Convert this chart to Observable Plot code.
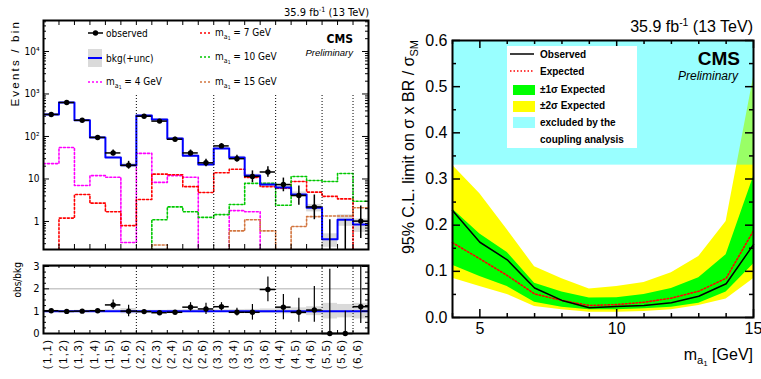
<!DOCTYPE html>
<html><head><meta charset="utf-8">
<script src="https://cdn.jsdelivr.net/npm/d3@7"></script>
<script src="https://cdn.jsdelivr.net/npm/@observablehq/plot@0.6"></script>
<style>
body{margin:0;background:#fff;}
#wrap{position:relative;width:761px;height:379px;overflow:hidden;background:#fff;}
#wrap svg{position:absolute;}
</style></head><body><div id="wrap"></div>
<script>
// ---------- Left panel data ----------
const bins = ["(1,1)","(1,2)","(1,3)","(1,4)","(1,5)","(1,6)","(2,2)","(2,3)","(2,4)","(2,5)","(2,6)","(3,3)","(3,4)","(3,5)","(3,6)","(4,4)","(4,5)","(4,6)","(5,5)","(5,6)","(6,6)"];
const observed = [330, 630, 240, 95, 41, 21, 300, 230, 86, 41, 24, 60, 30, 11.5, 14.6, 7.4, 4.1, 2.2, 0, 0, 1.02];
const obsLow  = [312, 605, 225, 86, 35, 17, 283, 215, 77, 35, 19.5, 52, 25, 8.2, 11, 5, 2.4, 1.1, 0.1, 0.1, 0.4];
const obsHigh = [348, 655, 256, 105, 48, 26, 318, 246, 96, 48, 29, 68, 36, 15.5, 19.5, 10.5, 6.8, 4.2, 1.1, 1.1, 2.3];
const background = [330, 630, 240, 95, 32, 21, 310, 250, 90, 35, 22, 52, 32, 12, 7.4, 6.3, 4.3, 2.1, 0.38, 1.1, 0.85];
const bkgRelUnc = [0.04, 0.03, 0.04, 0.05, 0.06, 0.12, 0.04, 0.04, 0.05, 0.07, 0.08, 0.06, 0.07, 0.08, 0.1, 0.12, 0.15, 0.2, 0.35, 0.3, 0.35];
const signal4  = [23, 55, 7, 12, 11, 0.32, 40, 8.3, 12, 11, 0.21, 0.21, 1.8, 1.7, 0.21, 0.21, 0.21, 0.21, 0.21, 0.21, 0.21];
const signal7  = [0.21, 1.2, 4.3, 2.7, 1.7, 0.8, 3.3, 13, 12.6, 6.6, 4.8, 14, 17, 10.8, 6.6, 6.1, 8.7, 4.9, 3.9, 3.4, 0.21];
const signal10 = [0.21, 0.21, 0.21, 0.21, 0.21, 0.21, 0.21, 1.1, 2.2, 1.7, 1.25, 1.45, 2.5, 7.9, 7.9, 2.4, 11.4, 9.2, 8.7, 13.5, 3.0];
const signal15 = [0.21, 0.21, 0.21, 0.21, 0.21, 0.21, 0.21, 0.28, 0.21, 0.21, 0.21, 0.21, 0.6, 1.1, 0.6, 0.21, 0.76, 1.3, 1.35, 1.35, 2.1];
const ratio     = [1.02, 0.99, 1.0, 1.02, 1.28, 1.0, 0.98, 0.93, 0.95, 1.18, 1.1, 1.2, 0.95, 0.95, 1.97, 1.18, 0.95, 1.05, 0, 0, 1.2];
const ratioLow  = [0.96, 0.95, 0.95, 0.96, 1.08, 0.75, 0.92, 0.87, 0.88, 1.0, 0.85, 1.02, 0.78, 0.6, 1.42, 0.62, 0.5, 0.5, 0, 0, 0.45];
const ratioHigh = [1.08, 1.03, 1.06, 1.09, 1.5, 1.26, 1.04, 0.99, 1.02, 1.38, 1.35, 1.38, 1.13, 1.3, 2.53, 1.75, 1.58, 2.1, 2.88, 1.0, 3.6];
const yTicksA = [1, 10, 100, 1000, 10000];
const yTickLabelsA = ["1", "10", "10²", "10³", "10⁴"];
const yTicksB = [0, 1, 2, 3];

// ---------- Right panel data ----------
const mass = [4, 5, 6, 7, 8, 9, 10, 11, 12, 13, 14, 15];
const obsLimit = [0.232, 0.163, 0.125, 0.064, 0.037, 0.021, 0.024, 0.026, 0.032, 0.046, 0.073, 0.158];
const expLimit = [0.162, 0.127, 0.091, 0.051, 0.037, 0.026, 0.028, 0.033, 0.042, 0.057, 0.085, 0.188];
const band1Lo = [0.113, 0.089, 0.067, 0.033, 0.022, 0.017, 0.017, 0.019, 0.022, 0.031, 0.055, 0.116];
const band1Hi = [0.235, 0.181, 0.141, 0.074, 0.055, 0.042, 0.043, 0.050, 0.063, 0.086, 0.136, 0.305];
const band2Lo = [0.085, 0.067, 0.050, 0.024, 0.017, 0.0115, 0.0115, 0.013, 0.017, 0.026, 0.040, 0.084];
const band2Hi = [0.33, 0.268, 0.19, 0.110, 0.084, 0.062, 0.067, 0.076, 0.097, 0.132, 0.208, 0.52];
const couplingExcl = 0.33;
const yTicksC = [0, 0.1, 0.2, 0.3, 0.4, 0.5, 0.6];
const xTicksC = [5, 10, 15];

// ---------- helpers ----------
const NARROW = "'Liberation Sans Narrow','DejaVu Sans Condensed','Liberation Sans',Arial,sans-serif";
const SANS = "'Liberation Sans',Arial,Helvetica,sans-serif";
const wrap = document.getElementById("wrap");
const N = bins.length;
const idx = d3.range(N);
const edges = d3.range(N + 1);
const stepData = vals => edges.map(i => ({x: i, y: vals[Math.min(i, N - 1)]}));
const dividers = idx.filter(i => i > 0 && bins[i][1] !== bins[i - 1][1]);
function place(svg, left, top) { svg.style.left = left + "px"; svg.style.top = top + "px"; wrap.appendChild(svg); return svg; }

// ---------- Panel A: events per bin (log) ----------
const WA = 380, HA = 255, mA = {l: 43, r: 12, t: 20, b: 6};
const iwA = WA - mA.l - mA.r, ihA = HA - mA.t - mA.b;
const yDomA = [0.219, 53600];
const clampA = v => Math.max(v, yDomA[0]);
const minorA = [1e-1, 1, 10, 100, 1000, 10000].flatMap(d => d3.range(2, 10).map(k => k * d)).filter(v => v > yDomA[0] && v < yDomA[1]);
const sigStyle = (vals, color) => Plot.line(stepData(vals), {x: "x", y: "y", curve: "step-after", stroke: color, strokeWidth: 1.6, strokeDasharray: "2,2", clip: true});
const plotA = Plot.plot({
  width: WA, height: HA, marginLeft: mA.l, marginRight: mA.r, marginTop: mA.t, marginBottom: mA.b,
  style: {fontFamily: NARROW, fontSize: "10px", background: "transparent"},
  x: {domain: [0, N], axis: null},
  y: {type: "log", domain: yDomA, axis: null},
  marks: [
    Plot.rect(idx, {x1: i => i, x2: i => i + 1, y1: i => clampA(background[i] * (1 - bkgRelUnc[i])), y2: i => background[i] * (1 + bkgRelUnc[i]), fill: "#dadada"}),
    sigStyle(signal4, "#ff00ff"),
    sigStyle(signal7, "#ff0000"),
    sigStyle(signal10, "#00c800"),
    sigStyle(signal15, "#d2753f"),
    Plot.line(stepData(background), {x: "x", y: "y", curve: "step-after", stroke: "#0000ff", strokeWidth: 2, clip: true}),
    Plot.ruleX(dividers, {x: d => d, y1: yDomA[0], y2: 1000, stroke: "#000", strokeWidth: 1, strokeDasharray: "1,2"}),
    Plot.ruleX(idx, {x: i => i + 0.5, y1: i => clampA(obsLow[i]), y2: i => obsHigh[i], stroke: "#000", strokeWidth: 1.5}),
    Plot.ruleY(idx.filter(i => observed[i] > 0), {y: i => observed[i], x1: i => i, x2: i => i + 1, stroke: "#000", strokeWidth: 1.5}),
    Plot.dot(idx.filter(i => observed[i] > 0), {x: i => i + 0.5, y: i => observed[i], r: 2.7, fill: "#000"}),
    Plot.tickY(yTicksA, {y: d => d, insetRight: iwA - 6, strokeWidth: 1}),
    Plot.tickY(minorA, {y: d => d, insetRight: iwA - 3, strokeWidth: 1}),
    Plot.tickY(yTicksA, {y: d => d, insetLeft: iwA - 6, strokeWidth: 1}),
    Plot.tickY(minorA, {y: d => d, insetLeft: iwA - 3, strokeWidth: 1}),
    Plot.tickX(edges.slice(1, -1), {x: d => d, insetTop: ihA - 5, strokeWidth: 1}),
    Plot.tickX(edges.slice(1, -1), {x: d => d, insetBottom: ihA - 5, strokeWidth: 1}),
    Plot.frame({stroke: "#000", strokeWidth: 2}),
    Plot.text(yTicksA, {y: d => d, text: (d, i) => yTickLabelsA[i], frameAnchor: "left", textAnchor: "end", dx: -4, fontSize: 10, fontFamily: NARROW})
  ]
});
place(plotA, 0, 0);

// ---------- Panel B: ratio ----------
const WB = 380, HB = 124, mB = {l: 43, r: 12, t: 10, b: 46};
const iwB = WB - mB.l - mB.r, ihB = HB - mB.t - mB.b;
const yDomB = [0, 3.045];
const minorB = d3.range(0, 3.01, 0.25).filter(v => !yTicksB.includes(v));
const plotB = Plot.plot({
  width: WB, height: HB, marginLeft: mB.l, marginRight: mB.r, marginTop: mB.t, marginBottom: mB.b,
  style: {fontFamily: NARROW, fontSize: "10px", background: "transparent"},
  x: {domain: [0, N], axis: null},
  y: {domain: yDomB, axis: null},
  marks: [
    Plot.rect(idx, {x1: i => i, x2: i => i + 1, y1: i => 1 - bkgRelUnc[i], y2: i => 1 + bkgRelUnc[i], fill: "#dadada"}),
    Plot.ruleY([2, 3], {y: d => d, stroke: "#9a9a9a", strokeWidth: 0.8}),
    Plot.ruleY([1], {y: d => d, stroke: "#0000ff", strokeWidth: 2}),
    Plot.ruleX(dividers, {x: d => d, stroke: "#000", strokeWidth: 1, strokeDasharray: "1,2"}),
    Plot.ruleX(idx, {x: i => i + 0.5, y1: i => ratioLow[i], y2: i => Math.min(ratioHigh[i], yDomB[1]), stroke: "#000", strokeWidth: 1.2}),
    Plot.ruleY(idx, {y: i => ratio[i], x1: i => i, x2: i => i + 1, stroke: "#000", strokeWidth: 1.5}),
    Plot.dot(idx, {x: i => i + 0.5, y: i => ratio[i], r: 2.7, fill: "#000"}),
    Plot.tickY(yTicksB, {y: d => d, insetRight: iwB - 6}),
    Plot.tickY(minorB, {y: d => d, insetRight: iwB - 3}),
    Plot.tickY(yTicksB, {y: d => d, insetLeft: iwB - 6}),
    Plot.tickY(minorB, {y: d => d, insetLeft: iwB - 3}),
    Plot.tickX(edges.slice(1, -1), {x: d => d, insetTop: ihB - 3}),
    Plot.tickX(edges.slice(1, -1), {x: d => d, insetBottom: ihB - 3}),
    Plot.frame({stroke: "#000", strokeWidth: 2}),
    Plot.text(yTicksB, {y: d => d, text: d => String(d), frameAnchor: "left", textAnchor: "end", dx: -4, fontSize: 11, fontFamily: NARROW}),
    Plot.text(idx, {x: i => i + 0.5, text: i => bins[i], frameAnchor: "bottom", rotate: -90, textAnchor: "end", dy: 5, fontSize: 11, fontFamily: SANS})
  ]
});
place(plotB, 0, 255);
d3.select(plotB).selectAll("text").filter(function(){ return /^\(/.test(this.textContent); }).style("letter-spacing", "1.6px");

// ---------- Panel C: limits ----------
const WC = 376, HC = 379, mC = {l: 67, r: 8, t: 40, b: 62};
const iwC = WC - mC.l - mC.r, ihC = HC - mC.t - mC.b;
const yDomC = [0, 0.6];
const mi = d3.range(mass.length);
const majorYC = yTicksC;
const minorYC = d3.range(0.05, 0.6, 0.1);
const minorXC = mass.filter(m => !xTicksC.includes(m));
const plotC = Plot.plot({
  width: WC, height: HC, marginLeft: mC.l, marginRight: mC.r, marginTop: mC.t, marginBottom: mC.b,
  style: {fontFamily: SANS, fontSize: "16px", background: "transparent"},
  x: {domain: [mass[0], mass[mass.length - 1]], axis: null},
  y: {domain: yDomC, axis: null},
  marks: [
    Plot.areaY(mi, {x: i => mass[i], y1: i => band2Lo[i], y2: i => band2Hi[i], fill: "#ffff00"}),
    Plot.areaY(mi, {x: i => mass[i], y1: i => band1Lo[i], y2: i => band1Hi[i], fill: "#00ff00"}),
    Plot.rect([couplingExcl], {x1: () => mass[0], x2: () => mass[mass.length - 1], y1: d => d, y2: () => yDomC[1], fill: "#00ffff", fillOpacity: 0.4}),
    Plot.line(mi, {x: i => mass[i], y: i => expLimit[i], stroke: "#ff0000", strokeWidth: 1.6, strokeDasharray: "1.5,2"}),
    Plot.line(mi, {x: i => mass[i], y: i => obsLimit[i], stroke: "#000", strokeWidth: 1.5}),
    Plot.tickY(majorYC, {y: d => d, insetRight: iwC - 8, strokeWidth: 1.5}),
    Plot.tickY(minorYC, {y: d => d, insetRight: iwC - 4, strokeWidth: 1.5}),
    Plot.tickY(majorYC, {y: d => d, insetLeft: iwC - 8, strokeWidth: 1.5}),
    Plot.tickY(minorYC, {y: d => d, insetLeft: iwC - 4, strokeWidth: 1.5}),
    Plot.tickX(xTicksC, {x: d => d, insetTop: ihC - 8, strokeWidth: 1.5}),
    Plot.tickX(minorXC, {x: d => d, insetTop: ihC - 4, strokeWidth: 1.5}),
    Plot.tickX(xTicksC, {x: d => d, insetBottom: ihC - 8, strokeWidth: 1.5}),
    Plot.tickX(minorXC, {x: d => d, insetBottom: ihC - 4, strokeWidth: 1.5}),
    Plot.frame({stroke: "#000", strokeWidth: 2}),
    Plot.text(yTicksC, {y: d => d, text: d => d3.format(".1f")(d), frameAnchor: "left", textAnchor: "end", dx: -5, fontSize: 16}),
    Plot.text(xTicksC, {x: d => d, text: d => String(d), frameAnchor: "bottom", lineAnchor: "top", dy: 5, fontSize: 16})
  ]
});
place(plotC, 385, 0);

// ---------- Overlay texts & legends ----------
const ov = d3.select(wrap).append("svg").attr("width", 761).attr("height", 379).style("left", "0px").style("top", "0px");
function T(x, y, o = {}) {
  const t = ov.append("text").attr("x", x).attr("y", y)
    .attr("font-family", o.family || SANS).attr("font-size", o.size || 10)
    .attr("text-anchor", o.anchor || "start").attr("fill", "#000");
  if (o.weight) t.attr("font-weight", o.weight);
  if (o.style) t.attr("font-style", o.style);
  if (o.transform) t.attr("transform", o.transform).attr("x", 0).attr("y", 0);
  if (o.ls) t.style("letter-spacing", o.ls);
  return t;
}
function lumi(x, y, size, family) {
  const t = T(x, y, {size, family, anchor: "end"});
  t.append("tspan").text("35.9 fb");
  t.append("tspan").attr("font-size", size * 0.65).attr("dy", -size * 0.38).text("-1");
  t.append("tspan").attr("dy", size * 0.38).text(" (13 TeV)");
}
function maLabel(t, size, suffix) {
  t.append("tspan").text("m");
  t.append("tspan").attr("font-size", size * 0.7).attr("dy", size * 0.25).text("a");
  t.append("tspan").attr("font-size", size * 0.5).attr("dy", size * 0.15).text("1");
  t.append("tspan").attr("font-size", size).attr("dy", -size * 0.4).text(suffix);
}
// Left panel
lumi(369, 16, 11, NARROW);
T(353, 43, {size: 12, weight: "bold", family: NARROW, anchor: "end"}).text("CMS");
T(353, 56, {size: 9.5, style: "italic", family: SANS, anchor: "end"}).text("Preliminary");
T(0, 0, {size: 11.5, family: SANS, anchor: "end", transform: "translate(19,20) rotate(-90)", ls: "2.2px"}).text("Events / bin");
T(0, 0, {size: 10, family: NARROW, anchor: "end", transform: "translate(21,262) rotate(-90)"}).text("obs/bkg");
// left legend column 1
ov.append("line").attr("x1", 88).attr("x2", 103).attr("y1", 33).attr("y2", 33).attr("stroke", "#000").attr("stroke-width", 1.5);
ov.append("circle").attr("cx", 95.5).attr("cy", 33).attr("r", 2.7).attr("fill", "#000");
T(106, 37, {size: 10, family: NARROW}).text("observed");
ov.append("rect").attr("x", 88).attr("y", 49).attr("width", 14).attr("height", 18).attr("fill", "#dadada");
ov.append("line").attr("x1", 88).attr("x2", 102).attr("y1", 58).attr("y2", 58).attr("stroke", "#0000ff").attr("stroke-width", 2);
T(106, 62, {size: 10, family: NARROW}).text("bkg(+unc)");
ov.append("line").attr("x1", 88).attr("x2", 103).attr("y1", 82).attr("y2", 82).attr("stroke", "#ff00ff").attr("stroke-width", 1.6).attr("stroke-dasharray", "2,2");
maLabel(T(106, 85, {size: 10, family: NARROW}), 10, " = 4 GeV");
// column 2
[["#ff0000", 33, " = 7 GeV"], ["#00c800", 57, " = 10 GeV"], ["#d2753f", 82, " = 15 GeV"]].forEach(([c, y, s]) => {
  ov.append("line").attr("x1", 200).attr("x2", 212).attr("y1", y).attr("y2", y).attr("stroke", c).attr("stroke-width", 1.6).attr("stroke-dasharray", "2,2");
  maLabel(T(215, y + 3, {size: 10, family: NARROW}), 10, s);
});
// Right panel
lumi(753, 32, 16, SANS);
T(740, 65, {size: 19, weight: "bold", anchor: "end"}).text("CMS");
T(738, 80, {size: 12, style: "italic", anchor: "end"}).text("Preliminary");
{
  const t = T(0, 0, {size: 16, anchor: "end", transform: "translate(414,40) rotate(-90)"});
  t.append("tspan").text("95% C.L. limit on σ x BR / σ");
  t.append("tspan").attr("font-size", 11).attr("dy", 4).text("SM");
}
maLabel(T(753, 360, {size: 16, anchor: "end"}), 16, " [GeV]");
// right legend
ov.append("rect").attr("x", 507).attr("y", 46).attr("width", 130).attr("height", 102).attr("fill", "#fff");
ov.append("line").attr("x1", 510).attr("x2", 534).attr("y1", 54).attr("y2", 54).attr("stroke", "#000").attr("stroke-width", 1.5);
T(540, 58, {size: 10, weight: "bold"}).text("Observed");
ov.append("line").attr("x1", 510).attr("x2", 534).attr("y1", 71).attr("y2", 71).attr("stroke", "#ff0000").attr("stroke-width", 1.6).attr("stroke-dasharray", "1.5,2");
T(540, 75, {size: 10, weight: "bold"}).text("Expected");
ov.append("rect").attr("x", 513).attr("y", 85).attr("width", 22).attr("height", 10).attr("fill", "#00ff00");
T(540, 93, {size: 10, weight: "bold"}).text("±1σ Expected");
ov.append("rect").attr("x", 513).attr("y", 101).attr("width", 22).attr("height", 11).attr("fill", "#ffff00");
T(540, 109, {size: 10, weight: "bold"}).text("±2σ Expected");
ov.append("rect").attr("x", 513).attr("y", 117).attr("width", 22).attr("height", 11).attr("fill", "#00ffff").attr("fill-opacity", 0.4);
T(540, 126, {size: 10, weight: "bold"}).text("excluded by the");
T(540, 143, {size: 10, weight: "bold"}).text("coupling analysis");
</script></body></html>
